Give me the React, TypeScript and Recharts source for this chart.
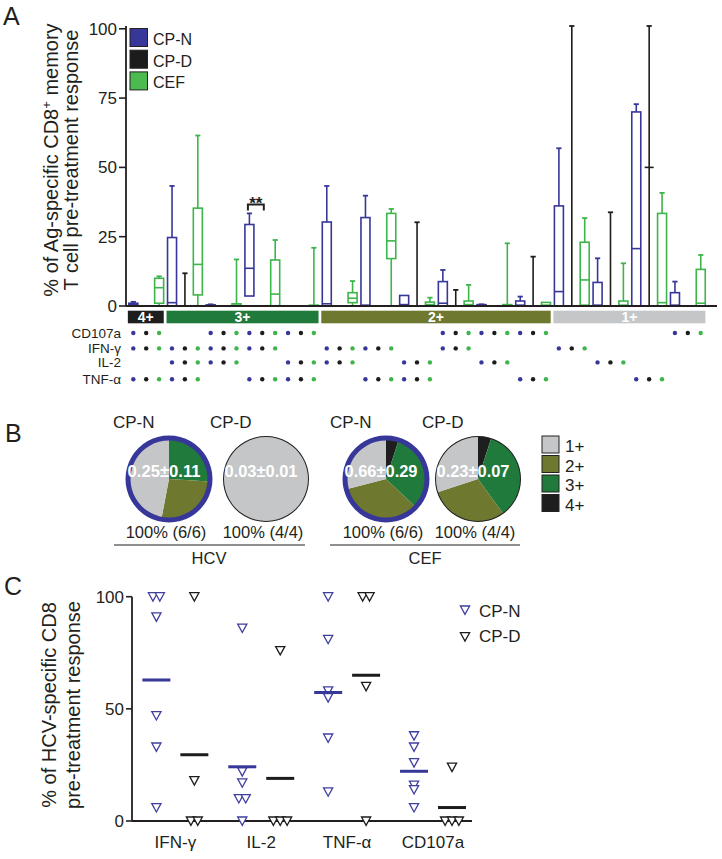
import React from "react";
import {
  ComposedChart,
  Bar,
  XAxis,
  YAxis,
  PieChart,
  Pie,
  Cell,
  ScatterChart,
  Scatter,
} from "recharts";

const FONT = "'Liberation Sans', Arial, Helvetica, sans-serif";
const INK = "#231f20";
const BLUE = "#37379a";
const BLACK = "#1c1c1c";
const GREEN = "#3db54a";

// ---------- panel A data ----------
const groupNames = ["CP-N", "CP-D", "CEF"];
const groupColors = [BLUE, BLACK, GREEN];
const cytokineRows = ["CD107a", "IFN-γ", "IL-2", "TNF-α"];

const comboLevels = ["4+", "3+", "3+", "3+", "3+", "2+", "2+", "2+", "2+", "2+", "2+", "1+", "1+", "1+", "1+"];
// dots per combination: CD107a, IFN-γ, IL-2, TNF-α
const comboMarks = [
  [1, 1, 0, 1],
  [0, 1, 1, 1],
  [1, 1, 1, 0],
  [1, 1, 0, 1],
  [1, 0, 1, 1],
  [0, 1, 1, 0],
  [0, 1, 0, 1],
  [0, 0, 1, 1],
  [1, 1, 0, 0],
  [1, 0, 1, 0],
  [1, 0, 0, 1],
  [0, 1, 0, 0],
  [0, 0, 1, 0],
  [0, 0, 0, 1],
  [1, 0, 0, 0],
];

// [min, q1, median, q3, max] for each combination
const boxCPN = [
  [0, 0, 0.5, 1, 1.5],
  [0, 0, 1.2, 24.7, 43.3],
  [0, 0, 0.2, 0.4, 0.6],
  [3.6, 3.6, 13.6, 29.4, 33.4],
  [0, 0, 0, 0, 0],
  [0, 0, 0.8, 30.3, 43.3],
  [0, 0, 0.3, 31.9, 39.8],
  [0, 0, 0.5, 3.8, 3.8],
  [0, 0, 1, 8.8, 13],
  [0, 0, 0.2, 0.5, 0.6],
  [0, 0, 0.3, 1.8, 3.4],
  [0, 0, 5.2, 36.1, 56.9],
  [0, 0, 0.3, 8.5, 17.2],
  [0, 0, 20.7, 70, 72.8],
  [0, 0, 0.3, 4.8, 8.8],
];
const boxCPD = [
  [0, 0, 0, 0, 0],
  [0, 0, 0, 0, 11.8],
  [0, 0, 0, 0, 0],
  [0, 0, 0, 0, 0],
  [0, 0, 0, 0, 0],
  [0, 0, 0, 0, 0],
  [0, 0, 0, 0, 0],
  [0, 0, 0, 0, 30.2],
  [0, 0, 0, 0, 5.8],
  [0, 0, 0, 0, 0],
  [0, 0, 0, 0, 17.8],
  [0, 0, 0, 0, 101],
  [0, 0, 0, 0, 33.8],
  [0, 50, 50, 50, 101],
  [0, 0, 0, 0, 0],
];
const boxCEF = [
  [0, 1, 6.6, 10, 10.7],
  [0, 4, 15, 35.3, 61.5],
  [0, 0, 0.3, 0.8, 16.8],
  [0, 0.1, 4.3, 16.6, 23.8],
  [0, 0, 0, 0.3, 21],
  [0, 1.2, 2.8, 4.8, 9],
  [0, 17.1, 23.5, 33.4, 35],
  [0, 0, 0.5, 1.4, 3],
  [0, 0, 0.5, 1.8, 7.6],
  [0, 0, 0.2, 0.5, 22.6],
  [0, 0, 0.3, 1.3, 1.3],
  [0, 0.3, 9.4, 23, 31.7],
  [0, 0, 0.3, 1.8, 15.4],
  [0, 0, 1.2, 33.4, 40.8],
  [0, 0, 1, 13.2, 18.4],
];
const sigMarks = [{ combo: 3, group: 0, text: "**" }];

const levelColors: Record<string, string> = {
  "4+": "#1e1e1e",
  "3+": "#1f7a3c",
  "2+": "#6e782e",
  "1+": "#c4c6c8",
};

const boxSets = [boxCPN, boxCPD, boxCEF];
const slots = comboLevels.flatMap((level, c) =>
  boxSets.map((set, g) => ({ key: `c${c}g${g}`, combo: c, group: g, level, stats: set[c] }))
);

const SLOT = 12.9;
const ROW_Y = [27, 42.4, 56.4, 73.2];

function BoxShape(props: any) {
  const { x, y, width, height, payload } = props;
  if (!payload) return null;
  const [mn, q1, md, q3, mx] = payload.stats;
  // bar spans the whole 0-101 domain, so values map linearly onto it
  const py = (v: number) => y + height * (1 - v / 101);
  const cx = x + width / 2;
  const color = groupColors[payload.group];
  const cap = 2.6;
  const sig = sigMarks.find((s) => s.combo === payload.combo && s.group === payload.group);
  const by = py(mx) - 9;
  return (
    <g stroke={color} strokeWidth={1.6} fill="none">
      {mx > q3 && <line x1={cx} x2={cx} y1={py(mx)} y2={py(q3)} />}
      {mx > q3 && <line x1={cx - cap} x2={cx + cap} y1={py(mx)} y2={py(mx)} strokeWidth={1.8} />}
      {q1 > mn && <line x1={cx} x2={cx} y1={py(q1)} y2={py(mn)} />}
      {q3 > 0 && <rect x={x} y={py(q3)} width={width} height={py(q1) - py(q3)} />}
      {q3 > 0 && <line x1={x} x2={x + width} y1={py(md)} y2={py(md)} />}
      {sig && (
        <g>
          <path
            d={`M${cx - 1.5},${by + 6}V${by}H${cx + SLOT + 1.5}V${by + 6}`}
            stroke={INK}
            strokeWidth={2}
            fill="none"
          />
          <text
            x={cx + SLOT / 2}
            y={by + 4.5}
            textAnchor="middle"
            fill={INK}
            stroke="none"
            fontSize={17}
            fontWeight="bold"
            fontFamily={FONT}
          >
            {sig.text}
          </text>
        </g>
      )}
    </g>
  );
}

function MatrixTick(props: any) {
  const { x, y, payload } = props;
  const i = slots.findIndex((s) => s.key === payload.value);
  if (i < 0) return null;
  const s = slots[i];
  const first = i === 0 || slots[i - 1].level !== s.level;
  let band = null;
  if (first) {
    const n = slots.filter((t) => t.level === s.level).length;
    const left = x - SLOT / 2 + 1;
    const w = n * SLOT - 2.8;
    band = (
      <g>
        <rect x={left} y={y + 4.7} width={w} height={12.6} fill={levelColors[s.level]} />
        <text
          x={left + w / 2}
          y={y + 15.6}
          textAnchor="middle"
          fill="#fff"
          fontSize={14}
          fontWeight="bold"
          fontFamily={FONT}
        >
          {s.level}
        </text>
      </g>
    );
  }
  const marks = comboMarks[s.combo];
  return (
    <g>
      {band}
      {i === 0 &&
        cytokineRows.map((name, r) => (
          <text
            key={name}
            x={x - 12.3}
            y={y + ROW_Y[r] + 4.5}
            textAnchor="end"
            fill={INK}
            fontSize={13.5}
            fontFamily={FONT}
          >
            {name}
          </text>
        ))}
      {marks.map((m, r) =>
        m ? <circle key={r} cx={x} cy={y + ROW_Y[r]} r={2.2} fill={groupColors[s.group]} /> : null
      )}
    </g>
  );
}

// ---------- panel B data ----------
const pieLevels = ["4+", "3+", "2+", "1+"];
const hcvCPN = [0, 26, 27, 47];
const hcvCPD = [0, 0, 0, 100];
const cefCPN = [5, 32, 34, 29];
const cefCPD = [5, 35, 30, 30];
const pieValues = ["0.25±0.11", "0.03±0.01", "0.66±0.29", "0.23±0.07"];
const pieCounts = ["100% (6/6)", "100% (4/4)", "100% (6/6)", "100% (4/4)"];
const pieGroups = ["CP-N", "CP-D", "CP-N", "CP-D"];
const pieSets = [hcvCPN, hcvCPD, cefCPN, cefCPD];
const legendLevels = ["1+", "2+", "3+", "4+"];

const PIE_X = [164, 261, 381, 473];
const PIE_CY = 64;

// ---------- panel C data ----------
const cNames = ["IFN-γ", "IL-2", "TNF-α", "CD107a"];
const cpnValues = [
  [100, 100, 91, 47, 33, 6],
  [86, 22, 17, 10, 10, 0],
  [100, 81, 58, 55, 37, 13],
  [38, 33, 26, 16, 14, 6],
];
const cpdValues = [
  [100, 18, 0, 0],
  [76, 0, 0, 0],
  [100, 100, 60, 0],
  [24, 0, 0, 0],
];

const OFFSET = 0.221;
const JIT = 0.08;
function toPoints(sets: number[][], side: number) {
  return sets.flatMap((vals, c) =>
    vals.map((v, k) => {
      const same = vals.filter((u) => u === v);
      const pos = vals.slice(0, k).filter((u) => u === v).length;
      const jitter = (pos - (same.length - 1) / 2) * JIT;
      return { x: c + 1 + side * OFFSET + jitter, y: v };
    })
  );
}
function toMeans(sets: number[][], side: number) {
  return sets.map((vals, c) => ({
    x: c + 1 + side * OFFSET,
    y: vals.reduce((a, b) => a + b, 0) / vals.length,
  }));
}
const cpnPoints = toPoints(cpnValues, -1);
const cpdPoints = toPoints(cpdValues, 1);
const cpnMeans = toMeans(cpnValues, -1);
const cpdMeans = toMeans(cpdValues, 1);

const C_BLUE = "#3f3fa0";

function triangle(color: string) {
  return (props: any) => {
    const { cx, cy } = props;
    return (
      <path
        d={`M${cx - 4.6},${cy - 4}L${cx + 4.6},${cy - 4}L${cx},${cy + 4.4}Z`}
        fill="#fff"
        stroke={color}
        strokeWidth={1.3}
      />
    );
  };
}
function meanLine(color: string) {
  return (props: any) => {
    const { cx, cy } = props;
    return <line x1={cx - 14} x2={cx + 14} y1={cy} y2={cy} stroke={color} strokeWidth={3} />;
  };
}

export default function App() {
  return (
    <div
      style={{
        position: "absolute",
        left: 0,
        top: 0,
        width: 722,
        height: 859,
        background: "#fff",
        overflow: "hidden",
        fontFamily: FONT,
      }}
    >
      <div style={{ position: "absolute", left: 0, top: 0 }}>
        <ComposedChart
          width={722}
          height={400}
          data={slots}
          margin={{ top: 26, right: 5, bottom: 0, left: 0 }}
          barSize={9}
        >
          <XAxis
            dataKey="key"
            type="category"
            interval={0}
            height={94}
            padding={{ left: 0.85, right: 9.85 }}
            axisLine={{ stroke: INK, strokeWidth: 1.8 }}
            tickLine={false}
            tickSize={0}
            tickMargin={0}
            tick={<MatrixTick />}
          />
          <YAxis
            type="number"
            domain={[0, 101]}
            ticks={[0, 25, 50, 75, 100]}
            width={126}
            axisLine={{ stroke: INK, strokeWidth: 1.8 }}
            tickLine={{ stroke: INK, strokeWidth: 1.6 }}
            tickSize={7}
            tickMargin={2}
            tick={{ fontSize: 17, fill: INK, fontFamily: FONT }}
          />
          <Bar dataKey={() => [0, 101]} shape={<BoxShape />} isAnimationActive={false} />
        </ComposedChart>
      </div>

      <div style={{ position: "absolute", left: 0, top: 410 }}>
        <PieChart width={722} height={130}>
          {pieSets.map((set, p) => {
            const isN = pieGroups[p] === "CP-N";
            const data = pieLevels.map((lv, k) => ({ name: lv, value: set[k] }));
            return (
              <Pie
                key={`pie${p}`}
                data={data}
                dataKey="value"
                cx={PIE_X[p]}
                cy={PIE_CY}
                outerRadius={isN ? 40 : 42.5}
                startAngle={90}
                endAngle={-270}
                stroke="none"
                isAnimationActive={false}
              >
                {data.map((d) => (
                  <Cell key={d.name} fill={levelColors[d.name]} />
                ))}
              </Pie>
            );
          })}
          {pieSets.map((set, p) => {
            const isN = pieGroups[p] === "CP-N";
            return (
              <Pie
                key={`ring${p}`}
                data={[{ name: pieGroups[p], value: 1 }]}
                dataKey="value"
                cx={PIE_X[p]}
                cy={PIE_CY}
                innerRadius={isN ? 38.5 : 42}
                outerRadius={isN ? 43.5 : 43}
                startAngle={90}
                endAngle={-270}
                fill={isN ? BLUE : "#222"}
                stroke="none"
                isAnimationActive={false}
              />
            );
          })}
        </PieChart>
      </div>

      <div style={{ position: "absolute", left: 0, top: 560 }}>
        <ScatterChart width={722} height={300} margin={{ top: 36.7, right: 250, bottom: 0, left: 0 }}>
          <XAxis
            type="number"
            dataKey="x"
            domain={[0.495, 4.454]}
            ticks={[1, 2, 3, 4]}
            tickFormatter={(v: number) => cNames[v - 1]}
            allowDataOverflow
            height={39}
            axisLine={{ stroke: INK, strokeWidth: 1.8 }}
            tickLine={false}
            tickSize={0}
            tickMargin={15}
            tick={{ fontSize: 17, fill: INK, fontFamily: FONT }}
          />
          <YAxis
            type="number"
            dataKey="y"
            domain={[0, 100]}
            ticks={[0, 50, 100]}
            width={132}
            axisLine={{ stroke: INK, strokeWidth: 1.8 }}
            tickLine={{ stroke: INK, strokeWidth: 1.6 }}
            tickSize={6}
            tickMargin={2}
            tick={{ fontSize: 17, fill: INK, fontFamily: FONT }}
          />
          <Scatter data={cpnPoints} shape={triangle(C_BLUE)} isAnimationActive={false} />
          <Scatter data={cpdPoints} shape={triangle(BLACK)} isAnimationActive={false} />
          <Scatter data={cpnMeans} shape={meanLine(BLUE)} isAnimationActive={false} />
          <Scatter data={cpdMeans} shape={meanLine(BLACK)} isAnimationActive={false} />
        </ScatterChart>
      </div>

      <svg
        width={722}
        height={859}
        style={{ position: "absolute", left: 0, top: 0, pointerEvents: "none" }}
        fontFamily={FONT}
      >
        {/* panel A */}
        <text x={3} y={25} fontSize={25} fill={INK}>A</text>
        <text transform="translate(58,160) rotate(-90)" textAnchor="middle" fontSize={20} fill={INK}>
          % of Ag-specific CD8<tspan dy={-7} fontSize={13}>+</tspan>
          <tspan dy={7}> memory</tspan>
        </text>
        <text transform="translate(78,160) rotate(-90)" textAnchor="middle" fontSize={20} fill={INK}>
          T cell pre-treatment response
        </text>
        {groupNames.map((g, k) => (
          <g key={g}>
            <rect
              x={130}
              y={28.5 + k * 21.7}
              width={17.5}
              height={18}
              fill={k === 2 ? "#4cbb4f" : groupColors[k]}
              stroke="#222"
              strokeWidth={1}
            />
            <text x={153} y={45 + k * 21.7} fontSize={16} fill={INK}>{g}</text>
          </g>
        ))}

        {/* panel B */}
        <text x={5} y={442} fontSize={25} fill={INK}>B</text>
        {pieGroups.map((g, p) => (
          <text key={`pl${p}`} x={PIE_X[p] - 51} y={428} fontSize={17} fill={INK}>{g}</text>
        ))}
        {pieValues.map((v, p) => (
          <text
            key={`pv${p}`}
            x={PIE_X[p]}
            y={476.5}
            textAnchor="middle"
            fontSize={17}
            fontWeight="bold"
            fill="#fff"
            textLength={73}
            lengthAdjust="spacingAndGlyphs"
          >
            {v}
          </text>
        ))}
        {pieCounts.map((v, p) => (
          <text key={`pc${p}`} x={PIE_X[p] + 2} y={538} textAnchor="middle" fontSize={16.5} fill={INK}>
            {v}
          </text>
        ))}
        <line x1={114} x2={305} y1={545} y2={545} stroke={INK} strokeWidth={1.2} />
        <line x1={330} x2={520} y1={545} y2={545} stroke={INK} strokeWidth={1.2} />
        <text x={209} y={564} textAnchor="middle" fontSize={16.5} fill={INK}>HCV</text>
        <text x={425} y={564} textAnchor="middle" fontSize={16.5} fill={INK}>CEF</text>
        {legendLevels.map((lv, k) => (
          <g key={lv}>
            <rect
              x={542}
              y={436 + k * 19.5}
              width={17}
              height={17}
              fill={levelColors[lv]}
              stroke="#222"
              strokeWidth={1}
            />
            <text x={565} y={452 + k * 19.5} fontSize={17} fill={INK}>{lv}</text>
          </g>
        ))}

        {/* panel C */}
        <text x={4} y={595} fontSize={25} fill={INK}>C</text>
        <text transform="translate(56,705) rotate(-90)" textAnchor="middle" fontSize={20} fill={INK}>
          % of HCV-specific CD8
        </text>
        <text transform="translate(80,705) rotate(-90)" textAnchor="middle" fontSize={20} fill={INK}>
          pre-treatment response
        </text>
        {[C_BLUE, BLACK].map((c, k) => (
          <g key={c}>
            <path
              d={`M${460.4},${606 + k * 26.7}L${469.6},${606 + k * 26.7}L${465},${614.4 + k * 26.7}Z`}
              fill="#fff"
              stroke={c}
              strokeWidth={1.3}
            />
            <text x={479} y={616.7 + k * 25} fontSize={17} fill={INK}>{k === 0 ? "CP-N" : "CP-D"}</text>
          </g>
        ))}
      </svg>
    </div>
  );
}
